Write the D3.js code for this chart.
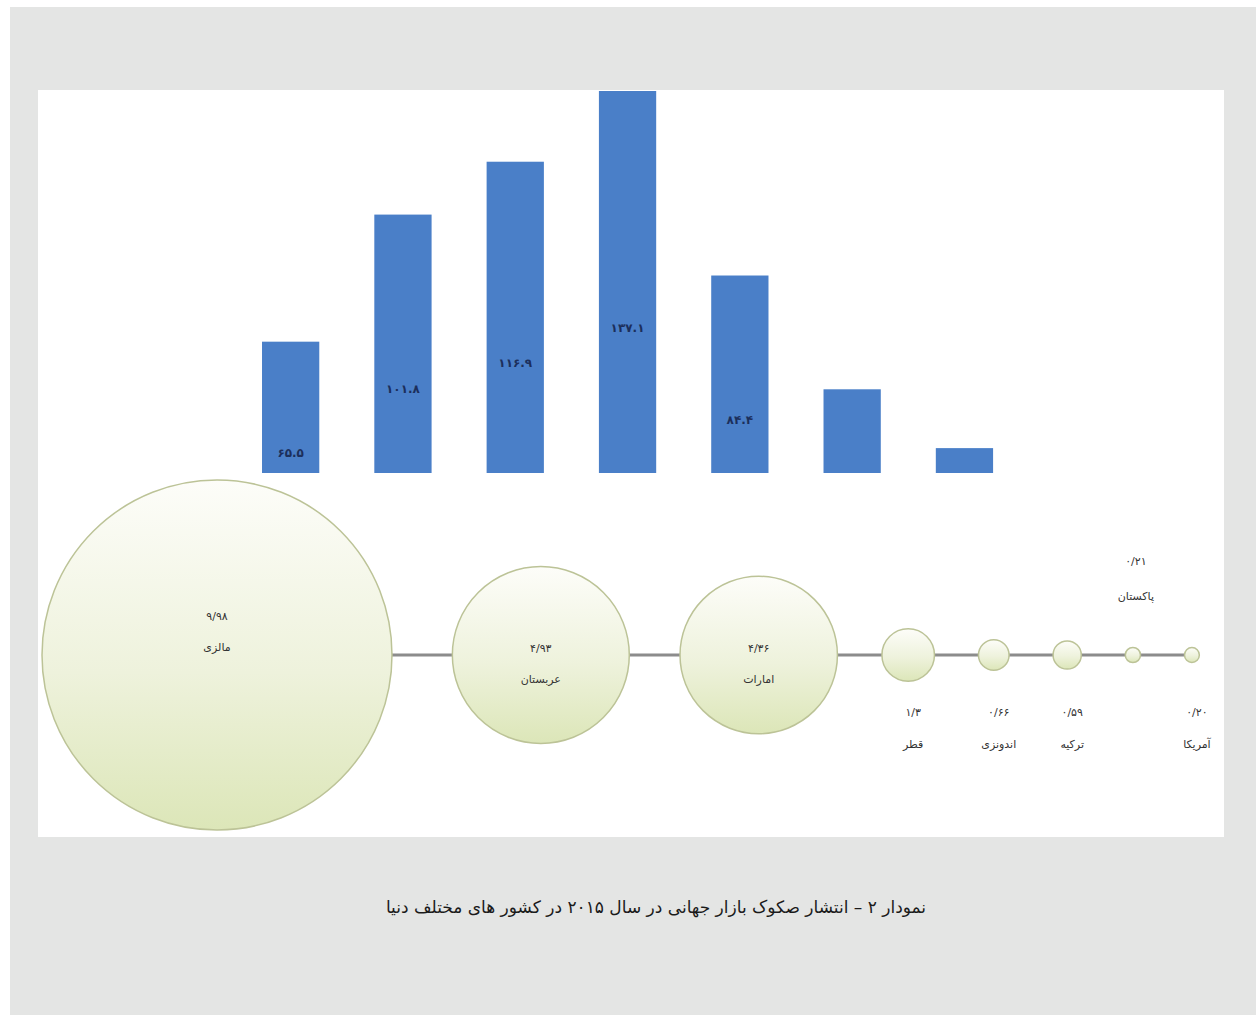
<!DOCTYPE html>
<html lang="fa">
<head>
<meta charset="utf-8">
<script src="https://cdn.jsdelivr.net/npm/d3@7"></script>
<style>
  html, body { margin: 0; padding: 0; background: #ffffff; }
  svg { display: block; }
  text { font-family: "DejaVu Sans", "Noto Sans", sans-serif; }
</style>
</head>
<body>
<svg id="chart" width="1256" height="1015"></svg>
<script>
// Sukuk issuance by year (bar series)
const barYears  = ["2009", "2010", "2011", "2012", "2013", "2014", "2015"];
const barValues = [65.5, 101.8, 116.9, 137.1, 84.4, 51.9, 35.1];

// Sukuk issuance by country in 2015 (bubble series)
const countries     = ["مالزی", "عربستان", "امارات", "قطر", "اندونزی", "ترکیه", "پاکستان", "آمریکا"];
const countryValues = [9.98, 4.93, 4.36, 1.3, 0.66, 0.59, 0.21, 0.20];
const countryLabels = ["۹/۹۸", "۴/۹۳", "۴/۳۶", "۱/۳", "۰/۶۶", "۰/۵۹", "۰/۲۱", "۰/۲۰"];

const caption = "نمودار ۲ – انتشار صکوک بازار جهانی در سال  ۲۰۱۵ در کشور های مختلف دنیا";

const faDigits = s => String(s).replace(/\d/g, d => "۰۱۲۳۴۵۶۷۸۹"[+d]);

const svg = d3.select("#chart");
const defs = svg.append("defs");

// page frame
svg.append("rect").attr("x", 10).attr("y", 7).attr("width", 1246).attr("height", 1008)
  .attr("fill", "#e4e5e4");
const panel = { x: 38, y: 90, w: 1186, h: 747 };
svg.append("rect").attr("x", panel.x).attr("y", panel.y)
  .attr("width", panel.w).attr("height", panel.h).attr("fill", "#ffffff");

// ---- bar chart (lower part covered by the bubble strip) ----
const barClipBottom = 473;
defs.append("clipPath").attr("id", "barClip")
  .append("rect").attr("x", panel.x).attr("y", panel.y)
  .attr("width", panel.w).attr("height", barClipBottom - panel.y);

const x = d3.scaleBand().domain(barYears).range([234.5, 1020.6])
  .paddingInner(0.49).paddingOuter(0.245);
const y = d3.scaleLinear().domain([0, 137.1]).range([571, 91]);

const bars = svg.append("g").attr("clip-path", "url(#barClip)");
bars.selectAll("rect.bar").data(barValues).join("rect")
  .attr("class", "bar")
  .attr("x", (d, i) => x(barYears[i]))
  .attr("width", x.bandwidth())
  .attr("y", d => y(d))
  .attr("height", d => y(0) - y(d))
  .attr("fill", "#4a7fc8");
bars.selectAll("text.val").data(barValues).join("text")
  .attr("class", "val")
  .attr("x", (d, i) => x(barYears[i]) + x.bandwidth() / 2)
  .attr("y", d => (y(d) + y(0)) / 2 - 3)
  .attr("text-anchor", "middle")
  .attr("dominant-baseline", "middle")
  .attr("font-size", 12)
  .attr("font-weight", "bold")
  .attr("fill", "#1c2f5c")
  .text(d => faDigits(d.toFixed(1)));

// ---- bubble strip ----
const cy = 655;
const r = d3.scaleLinear().domain([0, d3.max(countryValues)]).range([4, 175]);
// spacing between neighbouring bubbles; larger pairs get a little more room
const gapFor = (ra, rb) => 44 + 0.1 * Math.max(0, ra + rb - 100);
const cxs = [];
countryValues.forEach((v, i) => {
  if (i === 0) { cxs.push(217); return; }
  const rp = r(countryValues[i - 1]), rc = r(v);
  cxs.push(cxs[i - 1] + rp + gapFor(rp, rc) + rc);
});

const grad = defs.append("linearGradient").attr("id", "bubbleFill")
  .attr("x1", 0).attr("y1", 0).attr("x2", 0).attr("y2", 1);
grad.append("stop").attr("offset", "0%").attr("stop-color", "#fdfdf9");
grad.append("stop").attr("offset", "55%").attr("stop-color", "#eef2dc");
grad.append("stop").attr("offset", "100%").attr("stop-color", "#dce6b8");

svg.append("line")
  .attr("x1", cxs[0]).attr("x2", cxs[cxs.length - 1])
  .attr("y1", cy).attr("y2", cy)
  .attr("stroke", "#8c8c8c").attr("stroke-width", 3);

const bubbles = svg.append("g");
bubbles.selectAll("circle").data(countryValues).join("circle")
  .attr("cx", (d, i) => cxs[i])
  .attr("cy", cy)
  .attr("r", d => r(d))
  .attr("fill", "url(#bubbleFill)")
  .attr("stroke", "#bcc397")
  .attr("stroke-width", 1.5);

const labelAbove = new Set(["پاکستان"]);
const labels = svg.append("g")
  .attr("font-size", 11)
  .attr("fill", "#333333")
  .attr("text-anchor", "middle")
  .attr("dominant-baseline", "middle");

countryValues.forEach((v, i) => {
  const rad = r(v);
  let vy, ny, lx = cxs[i];
  if (rad > 40) {
    const lift = rad > 120 ? 32 : 0;
    vy = cy - 6 - lift; ny = cy + 25 - lift;
  } else if (labelAbove.has(countries[i])) {
    vy = 562; ny = 597; lx += 3;
  } else {
    vy = 713; ny = 745; lx += 5;
  }
  labels.append("text").attr("x", lx).attr("y", vy).text(countryLabels[i]);
  labels.append("text").attr("x", lx).attr("y", ny).attr("direction", "rtl")
    .attr("unicode-bidi", "embed").text(countries[i]);
});

// ---- caption ----
svg.append("text")
  .attr("x", 656).attr("y", 908)
  .attr("text-anchor", "middle")
  .attr("dominant-baseline", "middle")
  .attr("direction", "rtl")
  .attr("unicode-bidi", "embed")
  .attr("font-size", 17)
  .attr("fill", "#1a1a1a")
  .text(caption);
</script>
</body>
</html>
